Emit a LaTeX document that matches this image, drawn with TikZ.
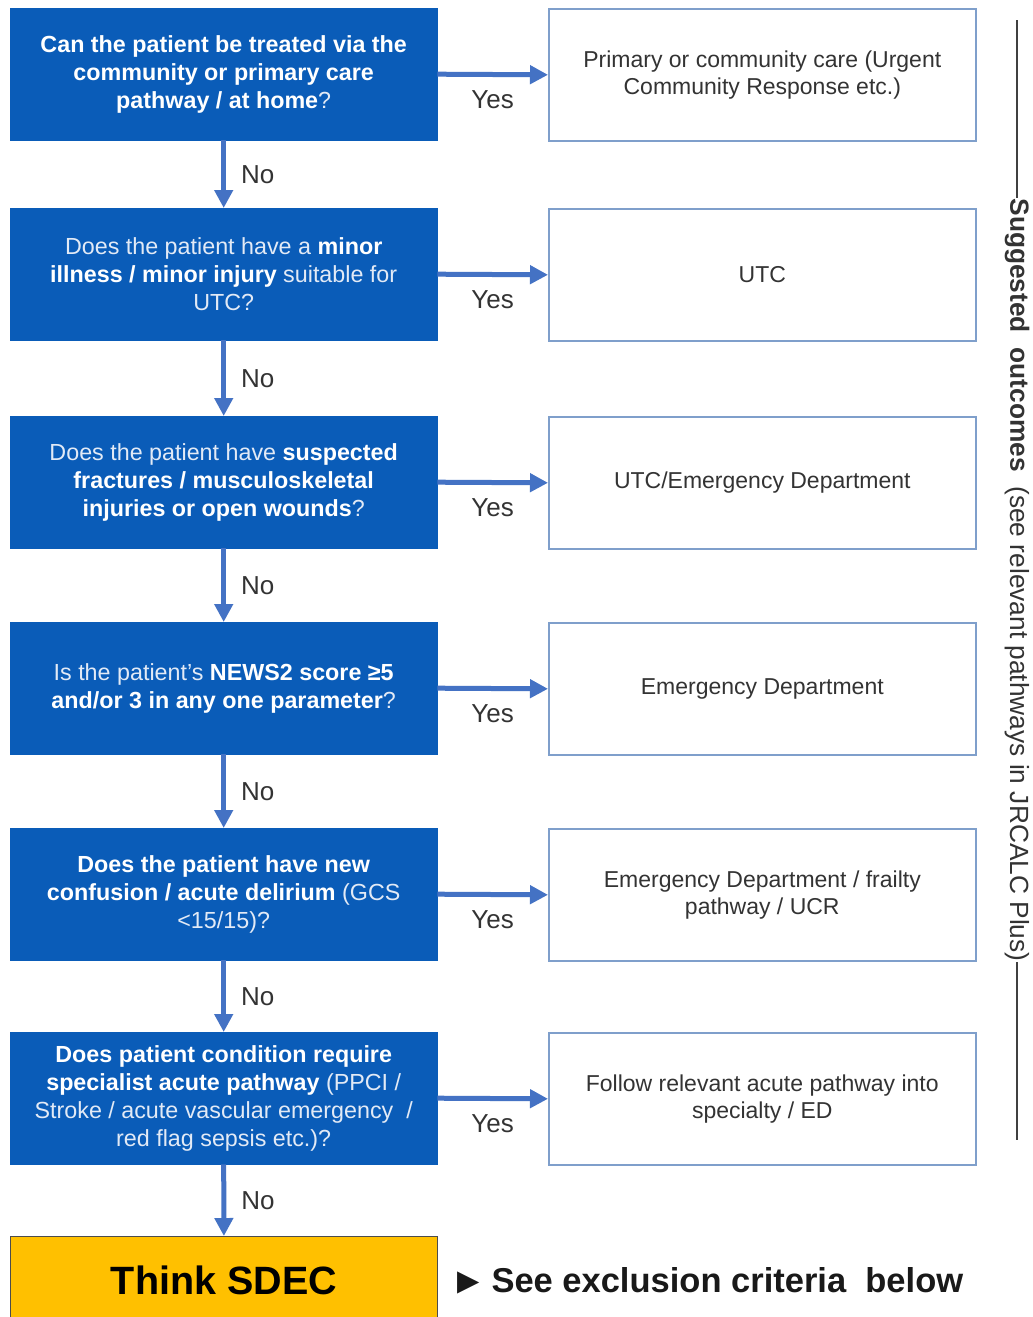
\documentclass[tikz,border=0pt]{standalone}
\usepackage{fontspec}
\setmainfont{Liberation Sans}
\newfontfamily\symfont{DejaVu Sans}
\usetikzlibrary{arrows.meta}
\definecolor{nhsblue}{HTML}{0A5CB8}
\definecolor{arrowblue}{HTML}{4472C4}
\definecolor{edgeblue}{HTML}{7F9FCB}
\definecolor{txtgray}{HTML}{333333}
\definecolor{soft}{HTML}{E2EAF6}
\definecolor{sdec}{HTML}{FFC000}
\tikzset{
  qbox/.style={draw=nhsblue, fill=nhsblue, text=white, minimum width=427pt, minimum height=132pt,
    anchor=north west, align=center, inner sep=2pt, font=\fontsize{23.3}{28}\selectfont},
  obox/.style={draw=edgeblue, line width=1.6pt, fill=white, text=txtgray, minimum width=427pt, minimum height=132pt,
    anchor=north west, align=center, inner sep=2pt, font=\fontsize{23}{27}\selectfont},
  flow/.style={draw=arrowblue, line width=5pt, -{Triangle[length=18pt,width=18pt]}},
  lbl/.style={text=txtgray, font=\fontsize{26}{30}\selectfont, inner sep=2pt},
}
\newcommand{\rg}[1]{{\mdseries\color{soft}#1}}
\begin{document}
\begin{tikzpicture}[x=1pt,y=-1pt]
\useasboundingbox (0,0) rectangle (1033,1317);
\fill[white] (0,0) rectangle (1033,1317);

\node[qbox] (q1) at (10,8) {\bfseries Can the patient be treated via the\\\bfseries community or primary care\\\bfseries pathway / at home\rg{?}};
\node[qbox] (q2) at (10,208) {\rg{Does the patient have a} \bfseries minor\\\bfseries illness / minor injury \rg{suitable for}\\\rg{UTC?}};
\node[qbox] (q3) at (10,416) {\rg{Does the patient have} \bfseries suspected\\\bfseries fractures / musculoskeletal\\\bfseries injuries or open wounds\rg{?}};
\node[qbox] (q4) at (10,622) {\rg{Is the patient's} \bfseries NEWS2 score ≥5\\\bfseries and/or 3 in any one parameter\rg{?}};
\node[qbox] (q5) at (10,828) {\bfseries Does the patient have new\\\bfseries confusion / acute delirium \rg{(GCS}\\\rg{<15/15)?}};
\node[qbox] (q6) at (10,1032) {\bfseries Does patient condition require\\\bfseries specialist acute pathway \rg{(PPCI /}\\\rg{Stroke / acute vascular emergency\ \ /}\\\rg{red flag sepsis etc.)?}};
\node[draw=black!70, line width=0.8pt, fill=sdec, minimum width=427pt, minimum height=88pt, anchor=north west,
  font=\fontsize{39.5}{42}\selectfont\bfseries, text=black] (sdec) at (10,1236) {Think SDEC};

\node[obox] (r1) at (548,8) {Primary or community care (Urgent\\Community Response etc.)};
\node[obox] (r2) at (548,208) {UTC};
\node[obox] (r3) at (548,416) {UTC/Emergency Department};
\node[obox] (r4) at (548,622) {Emergency Department};
\node[obox] (r5) at (548,828) {Emergency Department / frailty\\pathway / UCR};
\node[obox] (r6) at (548,1032) {Follow relevant acute pathway into\\specialty / ED};

\foreach \i in {1,...,6}{
  \draw[flow] (q\i.east) -- node[lbl, midway, yshift=-25pt] {Yes} (r\i.west);
}
\foreach \a/\b in {q1/q2,q2/q3,q3/q4,q4/q5,q5/q6,q6/sdec}{
  \draw[flow] (\a.south) -- node[lbl, midway, right=13pt] {No} (\b.north);
}

\node[anchor=west, font=\fontsize{34.5}{38}\selectfont\bfseries, text=black!90, inner sep=0pt] (see) at (457,1281)
  {\raisebox{2.5pt}{\symfont\mdseries\fontsize{29}{34}\selectfont ▶}\hspace{12pt}See exclusion criteria\ \ below};

\coordinate (ltop) at (1017,20);
\coordinate (lbot) at (1017,1140);
\draw[black!75, line width=1.5pt] (ltop) -- (lbot);
\node[fill=white, inner sep=1pt, rotate=-90, text=black!80, font=\fontsize{26.3}{28}\selectfont] (side) at (1017,580)
  {\textbf{Suggested\ \ outcomes}\ \ (see relevant pathways in JRCALC Plus)};
\end{tikzpicture}
\end{document}
